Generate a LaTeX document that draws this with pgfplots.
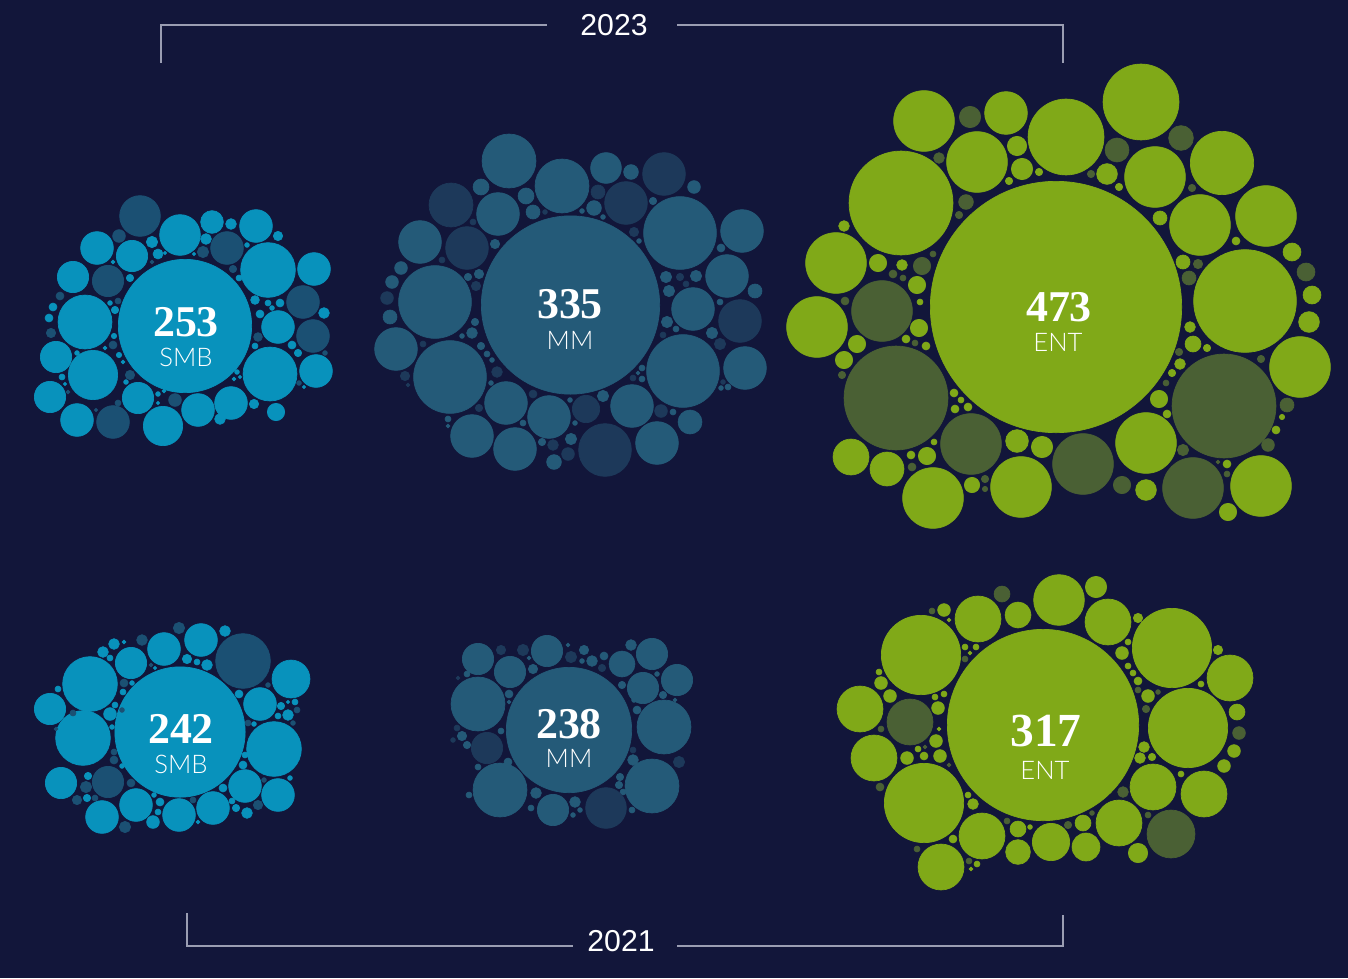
\documentclass[border=0pt]{standalone}
\usepackage{pgfplots}
\pgfplotsset{compat=1.18}
\usepackage{pgfplotstable}
\usepackage{fontspec}
\setmainfont{Liberation Sans}
\newfontfamily\numfont{Liberation Serif}
\newfontfamily\labfont{Lato Light}
\definecolor{bgc}{HTML}{12163A}
\definecolor{smbL}{HTML}{0892BC}
\definecolor{smbD}{HTML}{1B5073}
\definecolor{mmL}{HTML}{245A78}
\definecolor{mmD}{HTML}{1D395A}
\definecolor{entL}{HTML}{80A918}
\definecolor{entD}{HTML}{4A6034}
\definecolor{brk}{HTML}{9A9DB2}

\pgfplotstableread{
x y r
185 326 67
180 235 20.7
212 222 11.7
231 224 5.7
256 226 16.7
278 236 5
206 239 5.7
268 270 27.7
314 269 16.7
324 313 5.7
278 327 16.7
270 374 27.3
316 371 16.7
276 412 9
254 404 5
231 403 16.7
220 419 5.7
198 410 16.7
163 426 20
138 398 16
77 420 16.7
50 397 16
93 375 25
56 357 16
85 322 27.3
73 277 16
97 248 16.7
132 256 16
152 242 6
158 254 5.3
130 278 4
113 262 2.3
53 307 4.3
49 318 4.3
77 353 2.7
62 377 3.3
65 384 2
115 310 4
110 303 2.7
114 336 3
105 348 2.3
119 355 3
123 362 2.3
126 382 2.7
158 394 2.7
164 391 2.3
158 403 2
237 372 2.7
240 377 2
234 379 2.3
255 300 4.7
268 303 3.3
280 303 4.3
272 308 2.7
260 314 4.3
255 346 3.3
292 345 4.3
298 353 4
304 387 2
239 278 3.3
247 245 2.7
194 254 2
165 253 2
180 732 65.5
90 684 27.7
50 709 16
83 738 27.7
61 783 16
102 817 16.7
136 805 16.7
179 815 16.7
213 808 16.7
245 786 16.7
278 795 16.7
274 749 27.7
260 704 16.7
291 679 19.3
201 640 16.7
164 649 16.7
131 663 16
225 631 5.7
114 644 5.7
103 652 5.7
124 642 2.3
110 658 3.3
187 659 5
197 662 3.3
207 665 5.7
155 668 2
132 683 2.7
123 692 3.3
115 705 3.3
110 714 6.7
112 727 2.7
58 689 3.3
122 766 2.7
88 776 4
87 798 4
153 822 6.7
158 812 3.3
160 802 4.3
154 795 2.7
198 822 2.3
223 788 4.3
232 801 3.3
236 808 4
247 813 5.7
290 778 2.7
243 765 4.3
245 755 3.3
239 694 4.3
254 724 2.7
281 706 4
288 715 5.7
295 702 3.3
288 702 2
278 716 3.3
}\tsmbL

\pgfplotstableread{
x y r
140 216 20.7
227 248 16.7
203 252 6
303 302 16.7
313 336 16.7
175 400 6.7
113 422 16.7
108 281 16
119 236 6.7
60 296 4.3
51 333 5
68 392 2.3
118 301 3.3
113 345 4.3
130 375 5
118 403 3.3
96 410 2
233 269 4
258 337 4.7
325 353 2.7
299 383 2.7
152 262 2.3
108 782 16
243 661 27.7
179 628 6
142 640 5.7
124 683 4.3
122 710 2.7
73 713 3.3
56 729 2.3
114 752 3.3
114 760 4.3
131 783 4.3
86 787 6
77 800 5
95 798 3.3
125 827 6
193 800 3.3
258 805 5
264 780 2.7
268 685 2.7
248 723 3.3
297 710 3.3
293 723 2.7
151 665 2.3
}\tsmbD

\pgfplotstableread{
x y r
570.5 305 89.5
509 161 27.3
562 186 27.3
606 168 15.7
631 172 7.7
694 187 6.7
594 208 7.7
603 217 2.7
653 201 4
680 233 36.7
742 231 21.7
721 248 4.3
727 276 21.7
755 291 7.3
693 309 21.7
745 368 21.7
683 371 36.7
712 333 6
720 302 3.3
690 422 12.3
657 443 21.7
632 406 21.7
603 396 6
549 417 21.7
515 449 21.7
506 403 21.7
472 436 21.7
450 377 36.7
396 349 21.7
435 302 36.7
420 242 21.7
498 214 21.7
481 187 8.3
526 196 8.3
533 212 7.3
554 462 7.7
571 439 6
542 442 4
570 400 2.7
575 423 2.7
523 423 3.3
491 383 2.7
492 360 2.7
487 354 3.3
481 346 4
472 333 5.7
475 322 4
462 336 2.7
479 274 5
468 277 4
495 244 5
401 268 6.7
392 282 6.7
390 317 7.3
448 419 3.3
448 426 2.3
666 277 6
669 291 6
696 276 6
667 322 6
676 329 3.3
639 241 2.7
642 368 3.3
638 373 2.3
642 379 3.3
673 412 3.3
728 387 3.3
721 388 2.7
582 211 2.7
569 730 63
478 659 16
510 672 16
547 651 16
478 704 27.3
500 790 27.3
553 810 16
652 786 27.3
664 727 27.3
677 680 16
643 688 16
652 654 16
622 664 13.3
584 650 5
592 661 5.7
582 661 2.7
604 656 4.3
631 645 5.7
568 645 2.3
533 669 5
529 658 2.3
467 674 3.3
509 694 4.3
509 702 2.3
462 736 5
467 745 4
501 731 3.3
508 762 4.3
478 767 3.3
469 795 3.3
536 793 5.7
531 808 3.3
575 802 5.7
580 810 2.7
573 815 2.7
620 777 4
619 785 4
623 792 3.3
633 760 5.7
637 710 4.3
634 700 2.7
622 685 4
663 695 4
675 700 2.3
657 674 2.7
632 810 3.3
}\tmmL

\pgfplotstableread{
x y r
664 174 21.7
626 203 21.7
598 192 7.3
740 321 21.7
720 344 6
605 450 26.7
586 409 14
467 248 21.7
451 205 22.3
568 454 6.7
553 445 5.7
533 394 4.3
479 408 4
497 372 5.7
476 286 5
442 260 3.3
473 222 3.3
387 298 6.7
423 344 3.3
405 376 5
408 385 2.3
680 277 4
686 284 3.3
663 335 3.3
634 232 5
633 378 3.3
661 411 6.7
723 382 2.7
545 212 2.7
487 748 16
606 808 20.7
501 650 5
523 650 6
571 657 6
602 668 4
458 678 2.3
457 728 3.3
453 740 2.7
496 740 2.7
633 750 3.3
679 762 6
}\tmmD

\pgfplotstableread{
x y r
1056 307 126
924 121 30.7
1006 113 21.7
977 162 30.7
1017 146 10
1022 169 11
1039 172 4
1009 181 4
901 203 52.3
844 226 5.7
836 263 30.7
878 263 9
902 265 5.7
917 285 9
920 302 3.3
817 327 30.7
919 328 9
906 339 4.3
926 346 4.3
857 344 9
844 360 9
954 393 4.3
961 400 3.3
955 409 4.3
968 407 4.3
1017 441 11.7
1042 447 11
851 457 18.3
887 469 17.3
933 498 30.7
1021 487 30.7
934 442 3.3
927 456 9
911 455 4.3
972 485 8
1066 137 38.3
1141 102 38.3
1107 174 10.7
1119 187 4
1155 177 30.7
1222 163 32
1160 218 7.3
1200 225 30.7
1266 216 30.7
1292 252 9.3
1312 295 9.3
1309 322 10.7
1300 367 30.7
1245 301 51.7
1236 241 4.3
1183 262 7.3
1190 327 5.7
1193 344 8.3
1207 348 4
1180 364 5.7
1172 373 4
1159 399 9
1167 414 4.3
1146 443 30.7
1282 417 3
1276 430 4.3
1261 486 30.7
1227 464 4.3
1228 512 9
1146 490 10.7
1043 725 96
921 655 40
978 619 23.3
1018 615 13.3
1059 600 25.7
1096 587 11
1108 622 23.3
944 610 6.7
949 620 2.3
1172 648 40
1230 678 23.3
1218 650 5
1138 618 5
1188 728 40
1237 712 8.3
1234 751 6.7
1224 766 6.7
1204 794 23.3
1153 787 23.3
1119 823 23.3
1138 853 10
1086 847 14.3
1083 823 8.3
1051 842 19
1018 852 12.7
1018 829 8.3
1030 827 2.7
982 836 23.3
941 867 23.3
924 803 40
874 758 23.3
860 709 23.3
881 683 6.7
890 696 6.7
879 672 3.3
907 758 6.7
918 749 3.3
924 756 4.3
936 741 6.7
940 756 6.7
938 708 6.7
935 697 3.3
944 694 3.3
939 729 2.3
965 647 3.3
976 647 3.3
970 653 2.3
968 795 3.3
973 804 5.7
953 839 4.3
977 864 3.3
971 869 2.3
1122 653 6.7
1128 666 3.3
1133 673 3.3
1138 681 4.3
1148 696 6.7
1128 642 3.3
1144 747 5.7
1140 758 5.7
1152 757 4
1181 774 3.3
1201 684 3.3
}\tentL

\pgfplotstableread{
x y r
970 117 11
939 158 5.7
966 202 7.7
959 215 4
922 266 9
893 274 4.3
903 278 3.3
933 254 3.3
882 311 30.7
845 301 4.3
915 343 3.3
842 375 4
896 398 52.3
971 444 30.7
912 467 4.3
985 479 4
985 489 3
1117 150 12.3
1181 138 12.7
1091 174 4
1192 188 4
1306 272 9.3
1198 264 5
1189 278 7.3
1179 352 4
1166 383 3.3
1261 359 4
1224 406 52.3
1287 405 7.3
1268 445 6.7
1183 450 6
1083 464 30.7
1193 488 30.7
1227 474 3.3
1218 462 2.3
1122 485 9
1002 594 8.3
932 611 3.3
1239 733 6.7
1171 834 24.3
1068 825 4
1007 821 3.3
910 722 23.3
881 729 3.3
880 787 4.3
925 747 2.3
965 659 3.3
949 765 2.3
917 849 3.3
969 861 3.3
1138 690 3.3
1158 692 2.7
1146 709 4
1123 792 5.7
1148 815 3.3
1092 813 2.7
}\tentD

\pgfplotsset{
  bub/.style={scatter, only marks, mark=*,
    scatter/use mapped color={draw=#1, fill=#1, line width=0.2pt},
    visualization depends on={\thisrow{r} \as \rad},
    scatter/@pre marker code/.append style={/tikz/mark size=\rad*0.28453-0.1}},
}
\tikzset{
  numlab/.style={text=white, inner sep=0pt, font=\numfont\bfseries\fontsize{12.5}{13}\selectfont},
  catlab/.style={text=white, inner sep=0pt, font=\labfont\fontsize{7.3}{8}\selectfont},
}

\begin{document}
\begin{tikzpicture}
\fill[bgc] (0,0) rectangle (13.48cm,9.78cm);
\begin{axis}[
  at={(0,0)}, anchor=south west,
  width=13.48cm, height=9.78cm, scale only axis,
  xmin=0, xmax=1348, ymin=0, ymax=978, y dir=reverse,
  hide axis, clip=false,
]
\addplot[bub=smbL] table[x=x,y=y] {\tsmbL};
\addplot[bub=smbD] table[x=x,y=y] {\tsmbD};
\addplot[bub=mmL] table[x=x,y=y] {\tmmL};
\addplot[bub=mmD] table[x=x,y=y] {\tmmD};
\addplot[bub=entL] table[x=x,y=y] {\tentL};
\addplot[bub=entD] table[x=x,y=y] {\tentD};

\coordinate (n1) at (axis cs:186,322);
\coordinate (l1) at (axis cs:186,357);
\coordinate (n2) at (axis cs:570,304);
\coordinate (l2) at (axis cs:570,340);
\coordinate (n3) at (axis cs:1059,307);
\coordinate (l3) at (axis cs:1058,342);
\coordinate (n4) at (axis cs:181,729);
\coordinate (l4) at (axis cs:181,764);
\coordinate (n5) at (axis cs:569,724);
\coordinate (l5) at (axis cs:569,758);
\coordinate (n6) at (axis cs:1046,731);
\coordinate (l6) at (axis cs:1045,770);

\draw[brk, line width=0.45pt] (axis cs:161,63) -- (axis cs:161,25) -- (axis cs:547,25);
\draw[brk, line width=0.45pt] (axis cs:677,25) -- (axis cs:1063,25) -- (axis cs:1063,63);
\draw[brk, line width=0.45pt] (axis cs:187,913) -- (axis cs:187,946) -- (axis cs:573,946);
\draw[brk, line width=0.45pt] (axis cs:677,946) -- (axis cs:1063,946) -- (axis cs:1063,915);
\node[text=white, inner sep=0pt, font=\fontsize{8.6}{9}\selectfont] at (axis cs:614,25) {2023};
\node[text=white, inner sep=0pt, font=\fontsize{8.6}{9}\selectfont] at (axis cs:621,941) {2021};
\end{axis}
\node[numlab] at (n1) {253};
\node[catlab] at (l1) {SMB};
\node[numlab] at (n2) {335};
\node[catlab] at (l2) {MM};
\node[numlab] at (n3) {473};
\node[catlab] at (l3) {ENT};
\node[numlab] at (n4) {242};
\node[catlab] at (l4) {SMB};
\node[numlab] at (n5) {238};
\node[catlab] at (l5) {MM};
\node[numlab, font=\numfont\bfseries\fontsize{13.5}{14}\selectfont] at (n6) {317};
\node[catlab] at (l6) {ENT};
\pgfresetboundingbox
\useasboundingbox (0,0) rectangle (13.48cm,9.78cm);
\end{tikzpicture}
\end{document}
